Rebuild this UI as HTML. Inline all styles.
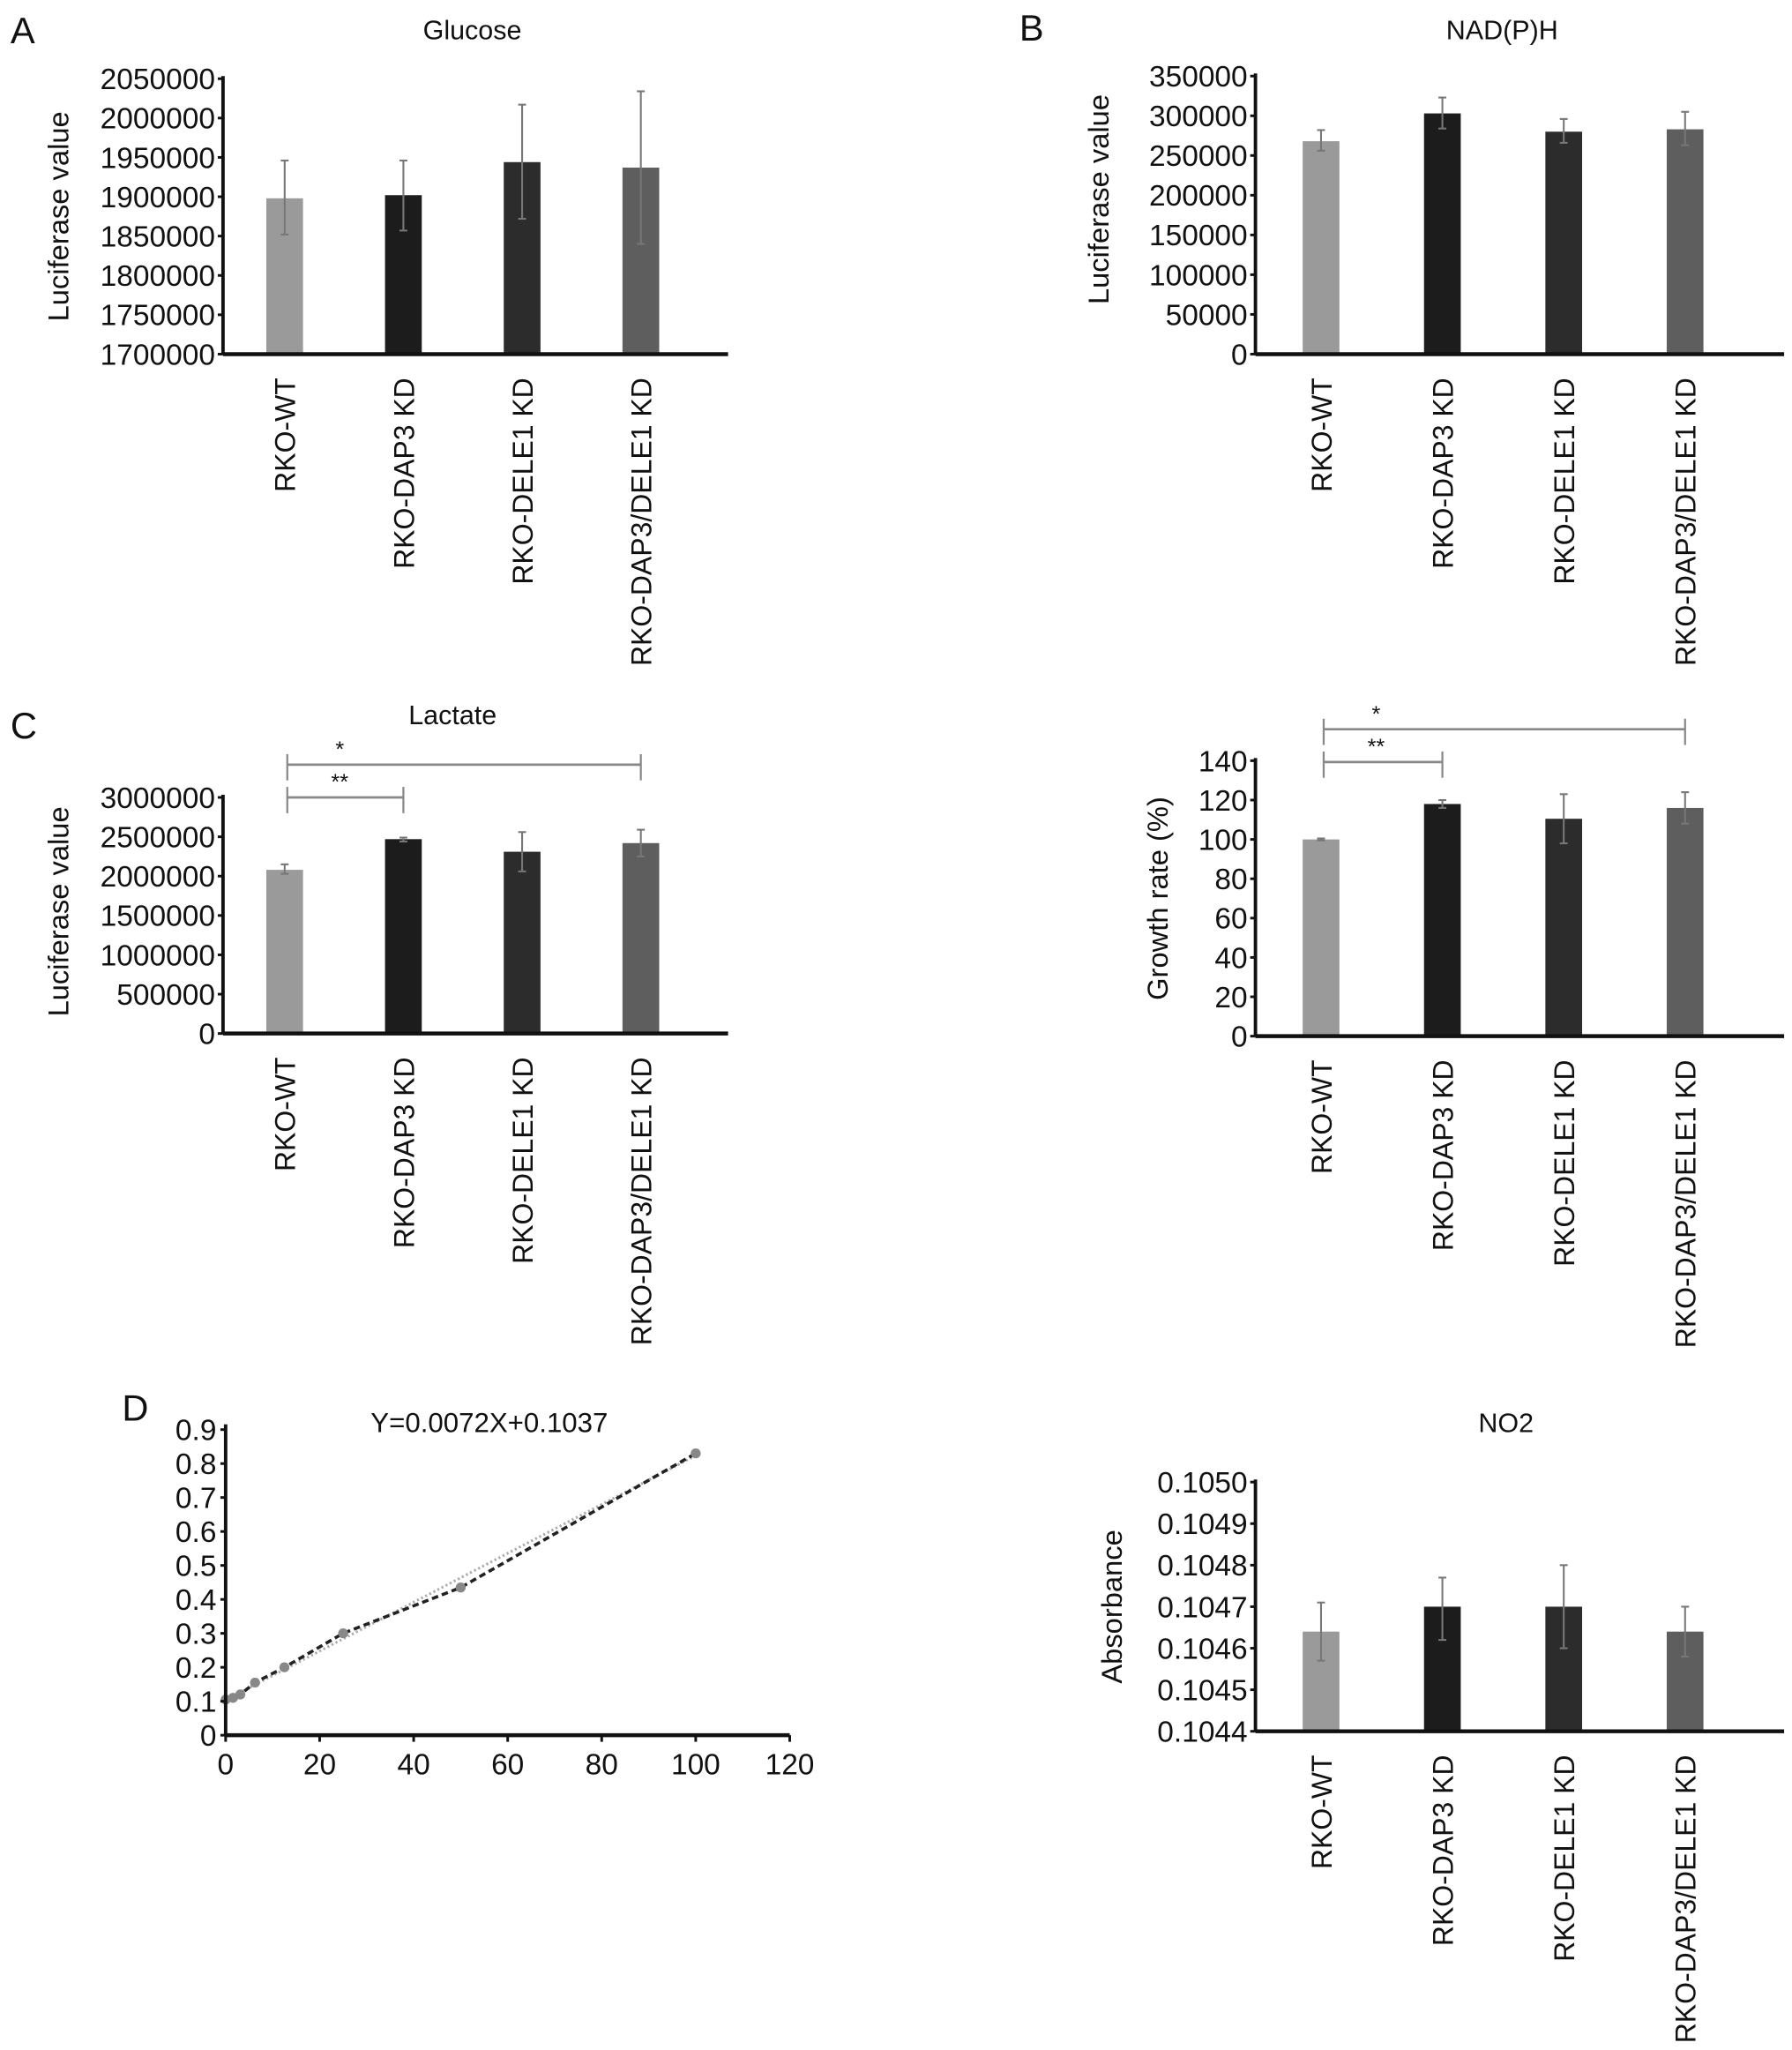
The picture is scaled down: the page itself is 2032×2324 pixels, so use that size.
<!DOCTYPE html>
<html><head><meta charset="utf-8">
<style>
html,body{margin:0;padding:0;background:#fff;}
svg{display:block;font-family:"Liberation Sans",Arial,sans-serif;}
</style></head>
<body>
<svg id="fig" width="2032" height="2324" viewBox="0 0 1366 1563" preserveAspectRatio="none" xmlns="http://www.w3.org/2000/svg"></svg>
<script>
// ---- data ----
const categories = ["RKO-WT","RKO-DAP3 KD","RKO-DELE1 KD","RKO-DAP3/DELE1 KD"];
const barColors = ["#9a9a9a","#1c1c1c","#2c2c2c","#5e5e5e"];
const glucoseVals = [1898000,1902000,1944000,1937000];
const glucoseLo = [1852000,1857000,1872000,1840000];
const glucoseHi = [1946000,1946000,2017000,2034000];
const glucoseTicks = ["1700000","1750000","1800000","1850000","1900000","1950000","2000000","2050000"];
const nadVals = [268000,303000,280000,283000];
const nadLo = [256000,284000,266000,263000];
const nadHi = [282000,323000,296000,305000];
const nadTicks = ["0","50000","100000","150000","200000","250000","300000","350000"];
const lactVals = [2080000,2470000,2310000,2420000];
const lactLo = [2030000,2440000,2060000,2250000];
const lactHi = [2150000,2490000,2560000,2590000];
const lactTicks = ["0","500000","1000000","1500000","2000000","2500000","3000000"];
const growthVals = [100,118,110.5,116];
const growthLo = [99.5,116,98,108];
const growthHi = [100.5,120,123,124];
const growthTicks = ["0","20","40","60","80","100","120","140"];
const no2Vals = [0.10464,0.10470,0.10470,0.10464];
const no2Lo = [0.10457,0.10462,0.10460,0.10458];
const no2Hi = [0.10471,0.10477,0.10480,0.10470];
const no2Ticks = ["0.1044","0.1045","0.1046","0.1047","0.1048","0.1049","0.1050"];
const stdX = [0,1.5625,3.125,6.25,12.5,25,50,100];
const stdY = [0.105,0.11,0.12,0.155,0.2,0.3,0.435,0.83];
const stdXTicks = ["0","20","40","60","80","100","120"];
const stdYTicks = ["0","0.1","0.2","0.3","0.4","0.5","0.6","0.7","0.8","0.9"];
const fitSlope = 0.0072, fitIntercept = 0.1037;

const NS="http://www.w3.org/2000/svg";
const svg=document.getElementById('fig');
function mk(tag,attrs,parent){const e=document.createElementNS(NS,tag);for(const k in attrs)e.setAttribute(k,attrs[k]);(parent||svg).appendChild(e);return e;}
function txt(s,attrs,parent){const e=mk('text',attrs,parent);e.textContent=s;return e;}

function barChart(o){
  const g=mk('g',{});
  
  
  const ymin=parseFloat(o.ticks[0]),ymax=parseFloat(o.ticks[o.ticks.length-1]);
  const Y=v=>o.bottom-(v-ymin)/(ymax-ymin)*(o.bottom-o.top);
  const X=i=>o.x0+o.bx0+i*o.step;
  o.vals.forEach((v,i)=>{
    const r=mk('rect',{x:X(i)-o.bw/2,y:Y(v),width:o.bw,height:o.bottom-Y(v),fill:barColors[i]},g);
    
    
    const eb=mk('g',{stroke:'#777','stroke-width':1.4},g);
    
    
    mk('line',{x1:X(i),x2:X(i),y1:Y(o.lo[i]),y2:Y(o.hi[i])},eb);
    mk('line',{x1:X(i)-3,x2:X(i)+3,y1:Y(o.hi[i]),y2:Y(o.hi[i])},eb);
    mk('line',{x1:X(i)-3,x2:X(i)+3,y1:Y(o.lo[i]),y2:Y(o.lo[i])},eb);
  });
  const ya=mk('line',{x1:o.x0,x2:o.x0,y1:o.top-2,y2:o.bottom,stroke:'#111','stroke-width':2.6},g);
  
  const xa=mk('line',{x1:o.x0,x2:o.xend,y1:o.bottom,y2:o.bottom,stroke:'#111','stroke-width':3},g);
  
  o.ticks.forEach(t=>{
    const y=Y(parseFloat(t));
    mk('line',{x1:o.x0-4,x2:o.x0,y1:y,y2:y,stroke:'#111','stroke-width':2},g);
    const tl=txt(t,{x:o.x0-6,y:y+8,'text-anchor':'end','font-size':22.5,fill:'#111'},g);
    
  });
  categories.forEach((c,i)=>{
    const tl=txt(c,{transform:`translate(${X(i)+8},${o.bottom+18}) rotate(-90)`,'text-anchor':'end','font-size':21.5,fill:'#111'},g);
    
  });
  const yt=txt(o.ylabel,{transform:`translate(${o.ylx},${o.yly}) rotate(-90)`,'text-anchor':'middle','font-size':22,fill:'#111'},g);
  
  if(o.title){const tt=txt(o.title,{x:o.tx,y:o.ty,'text-anchor':'middle','font-size':20.5,fill:'#111'},g);
    }
  (o.sig||[]).forEach(s=>{
    const sg=mk('g',{},g);
    
    const xa1=X(s.a)+2,xb=X(s.b);
    mk('line',{x1:xa1,x2:xb,y1:s.y,y2:s.y,stroke:'#888','stroke-width':1.8},sg);
    mk('line',{x1:xa1,x2:xa1,y1:s.y-8,y2:s.y+12,stroke:'#888','stroke-width':1.5},sg);
    mk('line',{x1:xb,x2:xb,y1:s.y-8,y2:s.y+12,stroke:'#888','stroke-width':1.5},sg);
    txt(s.label,{x:xa1+40,y:s.y-6,'text-anchor':'middle','font-size':17,fill:'#111'},sg);
  });
}
function letter(s,x,y){const t=txt(s,{x:x,y:y,'font-size':28,fill:'#111'});}

letter('A',8,33);letter('B',777,31);letter('C',8,563);letter('D',93,1083);

barChart({name:'glucose-chart',x0:170,top:60,bottom:270,xend:555,bx0:47,step:90.5,bw:28,
  vals:glucoseVals,lo:glucoseLo,hi:glucoseHi,ticks:glucoseTicks,ylabel:'Luciferase value',ylx:52,yly:165,title:'Glucose',tx:360,ty:30});
barChart({name:'nadph-chart',x0:957,top:58,bottom:270,xend:1360,bx0:50,step:92.5,bw:28,
  vals:nadVals,lo:nadLo,hi:nadHi,ticks:nadTicks,ylabel:'Luciferase value',ylx:845,yly:152,title:'NAD(P)H',tx:1145,ty:30});
barChart({name:'lactate-chart',x0:170,top:608,bottom:788,xend:555,bx0:47,step:90.5,bw:28,
  vals:lactVals,lo:lactLo,hi:lactHi,ticks:lactTicks,ylabel:'Luciferase value',ylx:52,yly:695,title:'Lactate',tx:345,ty:552,
  sig:[{a:0,b:3,y:583,label:'*'},{a:0,b:1,y:608,label:'**'}]});
barChart({name:'growth-chart',x0:957,top:580,bottom:790,xend:1360,bx0:50,step:92.5,bw:28,
  vals:growthVals,lo:growthLo,hi:growthHi,ticks:growthTicks,ylabel:'Growth rate (%)',ylx:890,yly:685,
  sig:[{a:0,b:3,y:556,label:'*'},{a:0,b:1,y:581,label:'**'}]});
barChart({name:'no2-chart',x0:957,top:1130,bottom:1320,xend:1360,bx0:50,step:92.5,bw:28,
  vals:no2Vals,lo:no2Lo,hi:no2Hi,ticks:no2Ticks,ylabel:'Absorbance',ylx:855,yly:1225,title:'NO2',tx:1148,ty:1092});

(function(){
  const g=mk('g',{});
  
  
  const x0=172,x1=602,top=1090,bottom=1323;
  const xmax=parseFloat(stdXTicks[stdXTicks.length-1]),ymax=parseFloat(stdYTicks[stdYTicks.length-1]);
  const X=v=>x0+v/xmax*(x1-x0), Y=v=>bottom-v/ymax*(bottom-top);
  const fit=mk('line',{x1:X(0),y1:Y(fitIntercept),x2:X(100),y2:Y(fitIntercept+fitSlope*100),stroke:'#aaa','stroke-width':2,'stroke-dasharray':'1.5 2'},g);
  
  const pts=stdX.map((v,i)=>X(v)+','+Y(stdY[i])).join(' ');
  const pl=mk('polyline',{points:pts,fill:'none',stroke:'#222','stroke-width':2.4,'stroke-dasharray':'5 3'},g);
  
  stdX.forEach((v,i)=>{const c=mk('circle',{cx:X(v),cy:Y(stdY[i]),r:3.8,fill:'#888'},g);
    });
  const ya=mk('line',{x1:x0,x2:x0,y1:top-4,y2:bottom,stroke:'#111','stroke-width':2.6},g);
  
  const xa=mk('line',{x1:x0,x2:x1,y1:bottom,y2:bottom,stroke:'#111','stroke-width':3},g);
  
  stdYTicks.forEach(t=>{const y=Y(parseFloat(t));
    mk('line',{x1:x0-4,x2:x0,y1:y,y2:y,stroke:'#111','stroke-width':2},g);
    const tl=txt(t,{x:x0-7,y:y+8,'text-anchor':'end','font-size':22.5,fill:'#111'},g);
    });
  stdXTicks.forEach(t=>{const x=X(parseFloat(t));
    mk('line',{x1:x,x2:x,y1:bottom,y2:bottom+5,stroke:'#111','stroke-width':2},g);
    const tl=txt(t,{x:x,y:bottom+30,'text-anchor':'middle','font-size':22.5,fill:'#111'},g);
    });
  const tt=txt('Y=0.0072X+0.1037',{x:373,y:1092,'text-anchor':'middle','font-size':21,fill:'#111'},g);
  
})();
</script>
</body></html>
